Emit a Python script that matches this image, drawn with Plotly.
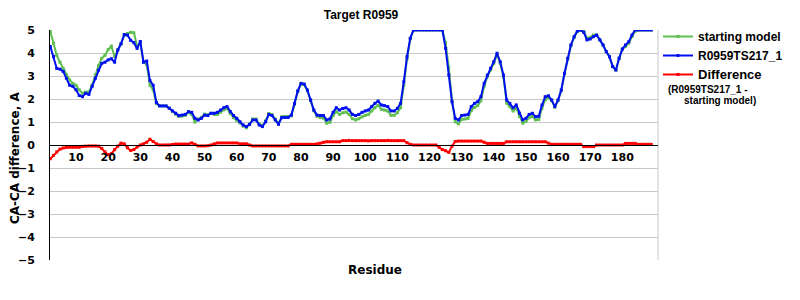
import plotly.graph_objects as go

residues = list(range(2, 190))

starting_model = [
    4.93, 4.42, 3.90, 3.60, 3.33, 3.05, 2.83, 2.68, 2.60,
    2.40, 2.25, 2.30, 2.30, 2.60, 3.05, 3.45, 3.77, 3.90, 4.15,
    4.30, 3.85, 4.15, 4.40, 4.78, 4.85, 4.90, 4.88, 4.30, 4.45,
    3.60, 3.50, 2.60, 2.40, 1.80, 1.70, 1.70, 1.70, 1.60, 1.46,
    1.34, 1.24, 1.26, 1.29, 1.41, 1.33, 1.00, 1.13, 1.20, 1.34,
    1.31, 1.38, 1.33, 1.33, 1.43, 1.53, 1.58, 1.36, 1.19, 1.07,
    0.96, 0.82, 0.75, 0.90, 1.13, 1.13, 0.91, 0.84, 1.05, 1.37,
    1.32, 1.13, 0.94, 1.23, 1.24, 1.24, 1.27, 1.77, 2.32, 2.65,
    2.62, 2.36, 1.93, 1.49, 1.25, 1.20, 1.16, 0.95, 0.99, 1.28,
    1.45, 1.33, 1.40, 1.43, 1.33, 1.14, 1.09, 1.14, 1.23, 1.29,
    1.33, 1.48, 1.62, 1.72, 1.55, 1.52, 1.48, 1.29, 1.29, 1.40,
    1.62, 2.60, 3.74, 4.61, 5.00, 5.00, 5.00, 5.00, 5.00, 5.00,
    5.00, 5.00, 5.00, 5.00, 4.45, 3.36, 1.93, 1.01, 0.92, 1.11,
    1.13, 1.16, 1.50, 1.64, 1.71, 1.93, 2.56, 2.97, 3.26, 3.55,
    3.92, 3.55, 2.97, 1.82, 1.67, 1.48, 1.60, 1.24, 0.95, 1.02,
    1.19, 1.24, 1.09, 1.11, 1.60, 1.96, 2.06, 1.93, 1.64, 1.93,
    2.36, 3.09, 3.74, 4.32, 4.68, 4.93, 5.00, 4.97, 4.64, 4.68,
    4.78, 4.78, 4.57, 4.35, 4.06, 3.84, 3.41, 3.26, 3.77, 4.17,
    4.28, 4.42, 4.71, 4.95, 5.00, 5.00, 5.00, 5.00, 5.00,
]

model_ts217 = [
    4.28, 3.85, 3.33, 3.30, 3.20, 2.90, 2.60, 2.55, 2.40,
    2.15, 2.10, 2.25, 2.20, 2.55, 2.90, 3.25, 3.55, 3.60, 3.70,
    3.75, 3.60, 4.13, 4.40, 4.80, 4.78, 4.55, 4.45, 4.20, 4.50,
    3.60, 3.65, 2.80, 2.60, 1.85, 1.70, 1.70, 1.70, 1.60, 1.48,
    1.38, 1.28, 1.30, 1.33, 1.45, 1.42, 1.16, 1.09, 1.16, 1.30,
    1.28, 1.38, 1.38, 1.42, 1.52, 1.62, 1.67, 1.45, 1.28, 1.16,
    1.01, 0.87, 0.80, 0.90, 1.09, 1.09, 0.87, 0.80, 1.01, 1.33,
    1.28, 1.09, 0.90, 1.19, 1.20, 1.20, 1.30, 1.80, 2.35, 2.68,
    2.65, 2.39, 1.96, 1.52, 1.30, 1.28, 1.28, 1.09, 1.13, 1.42,
    1.62, 1.52, 1.59, 1.62, 1.52, 1.33, 1.28, 1.33, 1.42, 1.48,
    1.52, 1.67, 1.81, 1.91, 1.74, 1.71, 1.67, 1.48, 1.48, 1.59,
    1.81, 2.75, 3.84, 4.64, 5.00, 5.00, 5.00, 5.00, 5.00, 5.00,
    5.00, 5.00, 5.00, 5.00, 4.20, 3.04, 1.88, 1.16, 1.09, 1.28,
    1.30, 1.33, 1.67, 1.81, 1.88, 2.10, 2.68, 3.04, 3.33, 3.62,
    3.99, 3.62, 3.04, 1.96, 1.81, 1.62, 1.74, 1.38, 1.09, 1.16,
    1.33, 1.38, 1.23, 1.25, 1.74, 2.10, 2.14, 1.96, 1.67, 1.96,
    2.39, 3.12, 3.77, 4.35, 4.71, 4.96, 5.00, 4.90, 4.57, 4.61,
    4.71, 4.78, 4.57, 4.35, 4.06, 3.84, 3.41, 3.26, 3.77, 4.17,
    4.35, 4.49, 4.78, 5.00, 5.00, 5.00, 5.00, 5.00, 5.00,
]

difference = [
    -0.60, -0.45, -0.30, -0.18, -0.13, -0.10, -0.10, -0.10, -0.10,
    -0.10, -0.06, -0.05, -0.04, -0.04, -0.04, -0.05, -0.15, -0.30, -0.42,
    -0.38, -0.20, -0.05, 0.08, 0.05, -0.12, -0.24, -0.20, -0.08, 0.00,
    0.05, 0.12, 0.25, 0.15, 0.05, 0.00, 0.00, 0.00, 0.00, 0.02,
    0.04, 0.04, 0.04, 0.04, 0.04, 0.09, 0.03, -0.04, -0.04, -0.04,
    -0.03, 0.00, 0.05, 0.09, 0.09, 0.09, 0.09, 0.09, 0.09, 0.09,
    0.05, 0.05, 0.05, 0.00, -0.04, -0.04, -0.04, -0.04, -0.04, -0.04,
    -0.04, -0.04, -0.04, -0.04, -0.04, -0.04, 0.03, 0.03, 0.03, 0.03,
    0.03, 0.03, 0.03, 0.03, 0.05, 0.08, 0.12, 0.14, 0.14, 0.14,
    0.14, 0.14, 0.19, 0.19, 0.20, 0.19, 0.19, 0.19, 0.19, 0.19,
    0.18, 0.19, 0.19, 0.19, 0.19, 0.19, 0.20, 0.19, 0.19, 0.19,
    0.19, 0.19, 0.10, 0.03, 0.00, 0.00, 0.00, 0.00, 0.00, 0.00,
    0.00, 0.00, -0.10, -0.20, -0.25, -0.32, -0.05, 0.15, 0.17, 0.17,
    0.17, 0.17, 0.17, 0.17, 0.17, 0.17, 0.12, 0.07, 0.07, 0.07,
    0.07, 0.07, 0.07, 0.14, 0.14, 0.14, 0.14, 0.14, 0.14, 0.14,
    0.14, 0.14, 0.14, 0.14, 0.14, 0.14, 0.08, 0.03, 0.03, 0.03,
    0.03, 0.03, 0.03, 0.03, 0.03, 0.03, 0.03, -0.07, -0.07, -0.07,
    -0.07, 0.00, 0.00, 0.00, 0.00, 0.00, 0.00, 0.00, 0.00, 0.00,
    0.07, 0.07, 0.07, 0.07, 0.03, 0.03, 0.03, 0.03, 0.03,
]

x_ticks = [10, 20, 30, 40, 50, 60, 70, 80, 90, 100, 110, 120, 130, 140, 150, 160, 170, 180]
y_ticks = [-5, -4, -3, -2, -1, 0, 1, 2, 3, 4, 5]

TICK_FONT = dict(family="DejaVu Sans", size=11, color="black")
BOLD_ARIAL = "Liberation Sans"

# plot area in pixels: x 50..660, y 30..260
PL, PR, PT, PB = 50, 660, 30, 260
PW, PH = PR - PL, PB - PT


def px_x(x):
    return (x - PL) / PW


def px_y(y):
    return (PB - y) / PH


fig = go.Figure()
fig.add_trace(go.Scatter(
    x=residues, y=starting_model, name="<b>starting model</b>",
    mode="lines+markers", line=dict(color="#5fbf50", width=2),
    marker=dict(symbol="square", size=3, color="#5fbf50"),
))
fig.add_trace(go.Scatter(
    x=residues, y=model_ts217, name="<b>R0959TS217_1</b>",
    mode="lines+markers", line=dict(color="#0010f0", width=2),
    marker=dict(symbol="square", size=3, color="#0010f0"),
))
fig.add_trace(go.Scatter(
    x=residues, y=difference,
    name="<b><span style='font-size:13px'>Difference</span></b>",
    mode="lines+markers", line=dict(color="#ff0000", width=2),
    marker=dict(symbol="square", size=3, color="#ff0000"),
))

fig.update_layout(
    width=800, height=300,
    margin=dict(l=PL, r=800 - PR, t=PT, b=300 - PB),
    paper_bgcolor="white", plot_bgcolor="white",
    font=dict(family="DejaVu Sans", size=12, color="black"),
    title=dict(text="<b>Target R0959</b>", x=361/800, xref="container", xanchor="center",
               y=1 - 15/300, yref="container", yanchor="middle",
               font=dict(family=BOLD_ARIAL, size=12, color="black")),
    xaxis=dict(
        range=[1.9, 191.1], tickmode="array", tickvals=x_ticks,
        ticktext=[f"<b>{t}</b>" for t in x_ticks],
        tickfont=TICK_FONT, showgrid=False, zeroline=False,
        showline=True, linecolor="black", linewidth=1,
        anchor="free", position=0.5, ticks="", ticklabelstandoff=2,
    ),
    yaxis=dict(
        range=[-5, 5], tickmode="array", tickvals=y_ticks,
        ticktext=[f"<b>{'\u2212' + str(-t) if t < 0 else t}</b>" for t in y_ticks],
        tickfont=TICK_FONT, showgrid=True, gridcolor="#c8c8c8", gridwidth=1,
        zeroline=False, showline=True, linecolor="black", linewidth=1,
        ticks="", ticklabelstandoff=12,
    ),
    legend=dict(
        x=1.0, xref="paper", xanchor="left", y=px_y(22), yanchor="top",
        font=dict(family=BOLD_ARIAL, size=12, color="black"),
        bgcolor="rgba(0,0,0,0)", itemwidth=30, valign="middle",
    ),
    showlegend=True,
)

fig.add_shape(type="line", xref="paper", yref="paper", x0=1, x1=1, y0=0, y1=1,
              line=dict(color="#c8c8c8", width=1), layer="below")

# legend sub-caption for the Difference entry
fig.add_annotation(text="<b>(R0959TS217_1 -</b>", xref="paper", yref="paper",
                   x=px_x(668), y=px_y(89), xanchor="left", yanchor="middle",
                   showarrow=False, font=dict(family=BOLD_ARIAL, size=10, color="black"))
fig.add_annotation(text="<b>starting model)</b>", xref="paper", yref="paper",
                   x=px_x(684), y=px_y(100), xanchor="left", yanchor="middle",
                   showarrow=False, font=dict(family=BOLD_ARIAL, size=10, color="black"))

fig.add_annotation(text="<b>CA-CA difference, A</b>", xref="paper", yref="paper",
                   x=px_x(15), y=px_y(158), textangle=-90,
                   showarrow=False, xanchor="center", yanchor="middle",
                   font=dict(family="DejaVu Sans", size=12, color="black"))
fig.add_annotation(text="<b>Residue</b>", xref="paper", yref="paper",
                   x=px_x(376), y=px_y(270),
                   showarrow=False, xanchor="center", yanchor="middle",
                   font=dict(family="DejaVu Sans", size=12, color="black"))

fig.write_html("out.html")
